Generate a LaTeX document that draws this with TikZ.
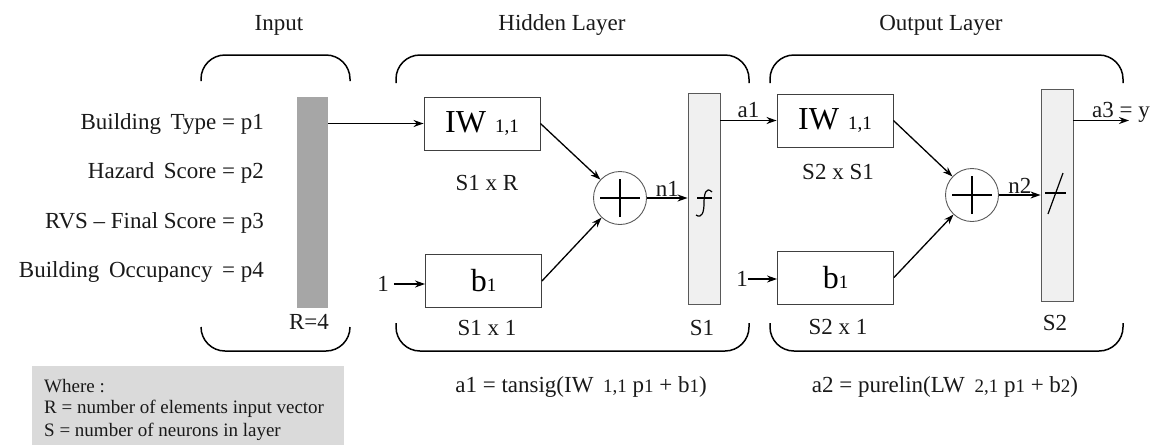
\documentclass[tikz,border=0pt]{standalone}
\usepackage{fontspec}
\setmainfont{Liberation Serif}
\usetikzlibrary{arrows.meta}
\definecolor{inbar}{HTML}{A6A6A6}
\definecolor{tbar}{HTML}{F0F0F0}
\definecolor{wherebg}{HTML}{DADADA}
\newcommand{\mfont}{\fontsize{23}{27}\selectfont}
\newcommand{\bfnt}{\fontsize{32}{36}\selectfont}
\newcommand{\sfnt}{\fontsize{19}{22}\selectfont}
\newcommand{\wfnt}{\fontsize{19}{22}\selectfont}
\begin{document}
\begin{tikzpicture}[x=1pt,y=-1pt,
  lbl/.style={font=\mfont, inner sep=0pt, text=black!90},
  wlbl/.style={font=\wfnt, anchor=west, inner sep=0pt, text=black!90},
  wbox/.style={draw=black!75, line width=0.9pt, fill=white, minimum width=116pt, minimum height=53pt, inner sep=0pt},
  sumc/.style={circle, draw=black!65, line width=0.9pt, minimum size=53pt, inner sep=0pt},
  tfbar/.style={draw=black!65, line width=0.9pt, fill=tbar, minimum width=32pt, inner sep=0pt},
  conn/.style={line width=1.3pt, -{Stealth[length=10pt,width=7pt]}},
  brk/.style={line width=1.5pt, rounded corners=24pt},
  symb/.style={line width=1.2pt}]
\useasboundingbox (0,0) rectangle (1159,445);

% titles
\node[lbl] (tin) at (279,25) {Input};
\node[lbl] (thid) at (562,25) {Hidden Layer};
\node[lbl] (tout) at (941,25) {Output Layer};

% brackets
\draw[brk] (201,81) -- (201,55) -- (350,55) -- (350,81);
\draw[brk] (396,83) -- (396,55) -- (749,55) -- (749,83);
\draw[brk] (770,83) -- (770,55) -- (1123,55) -- (1123,83);
\draw[brk] (201,327) -- (201,351) -- (350,351) -- (350,327);
\draw[brk] (396,323) -- (396,351) -- (749,351) -- (749,323);
\draw[brk] (770,323) -- (770,351) -- (1123,351) -- (1123,323);

% input labels
\node[lbl, anchor=east] (p1) at (264,124) {Building\, Type = p1};
\node[lbl, anchor=east] (p2) at (264,173) {Hazard\, Score = p2};
\node[lbl, anchor=east] (p3) at (264,223) {RVS -- Final Score = p3};
\node[lbl, anchor=east] (p4) at (264,272) {Building\, Occupancy\, = p4};

% input bar
\node[fill=inbar, minimum width=31pt, minimum height=211pt, inner sep=0pt] (inb) at (312.5,202.5) {};
\node[lbl] (r4) at (309,322) {R=4};

% hidden layer
\node[wbox] (iw1) at (482,123.5) {{\bfnt IW}\hspace{9pt}{\sfnt 1,1}};
\node[wbox] (bb1) at (483.5,281) {{\bfnt b}{\sfnt 1}};
\node[sumc] (s1) at (620,198) {};
\node[tfbar, minimum height=211pt] (h1) at (704,198.5) {};
\node[lbl] (one1) at (383,284) {1};
\node[lbl] (d1) at (487,183) {S1 x R};
\node[lbl] (d2) at (487,328) {S1 x 1};
\node[lbl] (d3) at (702,328) {S1};

\draw[conn] (inb.east |- iw1.west) -- (iw1.west);
\draw[conn] (one1.east) ++(5,0) -- (one1.east -| bb1.west);
\draw[conn] (iw1.east) -- (s1);
\draw[conn] (bb1.east) -- (s1);
\draw[conn] (s1.east) -- (s1.east -| h1.west) node[lbl, midway, above=1pt] (n1) {n1};
\draw[symb] ([xshift=-20pt]s1.center) -- ([xshift=20pt]s1.center);
\draw[symb] ([yshift=-19pt]s1.center) -- ([yshift=19pt]s1.center);
% tansig symbol
\draw[symb] (697,198) -- (712,198);
\draw[symb] (712,192) .. controls (706,186) and (704,194) .. (704,203) .. controls (704,212) and (702,219) .. (696,215);

% output layer
\node[wbox] (iw2) at (835,120.5) {{\bfnt IW}\hspace{9pt}{\sfnt 1,1}};
\node[wbox] (bb2) at (835.5,277.5) {{\bfnt b}{\sfnt 1}};
\node[sumc] (s2) at (972,195) {};
\node[tfbar, minimum height=212pt] (o1) at (1057,195) {};
\node[lbl] (one2) at (742,279) {1};
\node[lbl] (e1) at (838,172) {S2 x S1};
\node[lbl] (e2) at (838,327) {S2 x 1};
\node[lbl] (e3) at (1055,323) {S2};
\coordinate (yend) at (1129,120.5);

\draw[conn] (h1.east |- iw2.west) -- (iw2.west) node[lbl, pos=0.5, above=2pt] (a1) {a1};
\draw[conn] (one2.east) -- (one2.east -| bb2.west);
\draw[conn] (iw2.east) -- (s2);
\draw[conn] (bb2.east) -- (s2);
\draw[conn] (s2.east) -- (s2.east -| o1.west) node[lbl, midway, above=1pt] (n2) {n2};
\draw[symb] ([xshift=-20pt]s2.center) -- ([xshift=20pt]s2.center);
\draw[symb] ([yshift=-19pt]s2.center) -- ([yshift=19pt]s2.center);
% purelin symbol
\draw[symb] (1045,193) -- (1066,193);
\draw[symb] (1048,214) -- (1063,173);
\draw[conn] (o1.east |- yend) -- (yend);
\node[lbl] (a3) at (1121,112) {a3 = y};

% formulas
\node[lbl] (f1) at (581,387) {a1 = tansig(IW\, {\sfnt 1,1} p{\sfnt 1} + b{\sfnt 1})};
\node[lbl] (f2) at (945,387) {a2 = purelin(LW\, {\sfnt 2,1} p{\sfnt 1} + b{\sfnt 2})};

% where box
\fill[wherebg] (32,366) rectangle (344,445);
\node[wlbl] (w1) at (44,386) {Where :};
\node[wlbl] (w2) at (44,409) {R = number of elements input vector};
\node[wlbl] (w3) at (44,432) {S = number of neurons in layer};
\end{tikzpicture}
\end{document}
